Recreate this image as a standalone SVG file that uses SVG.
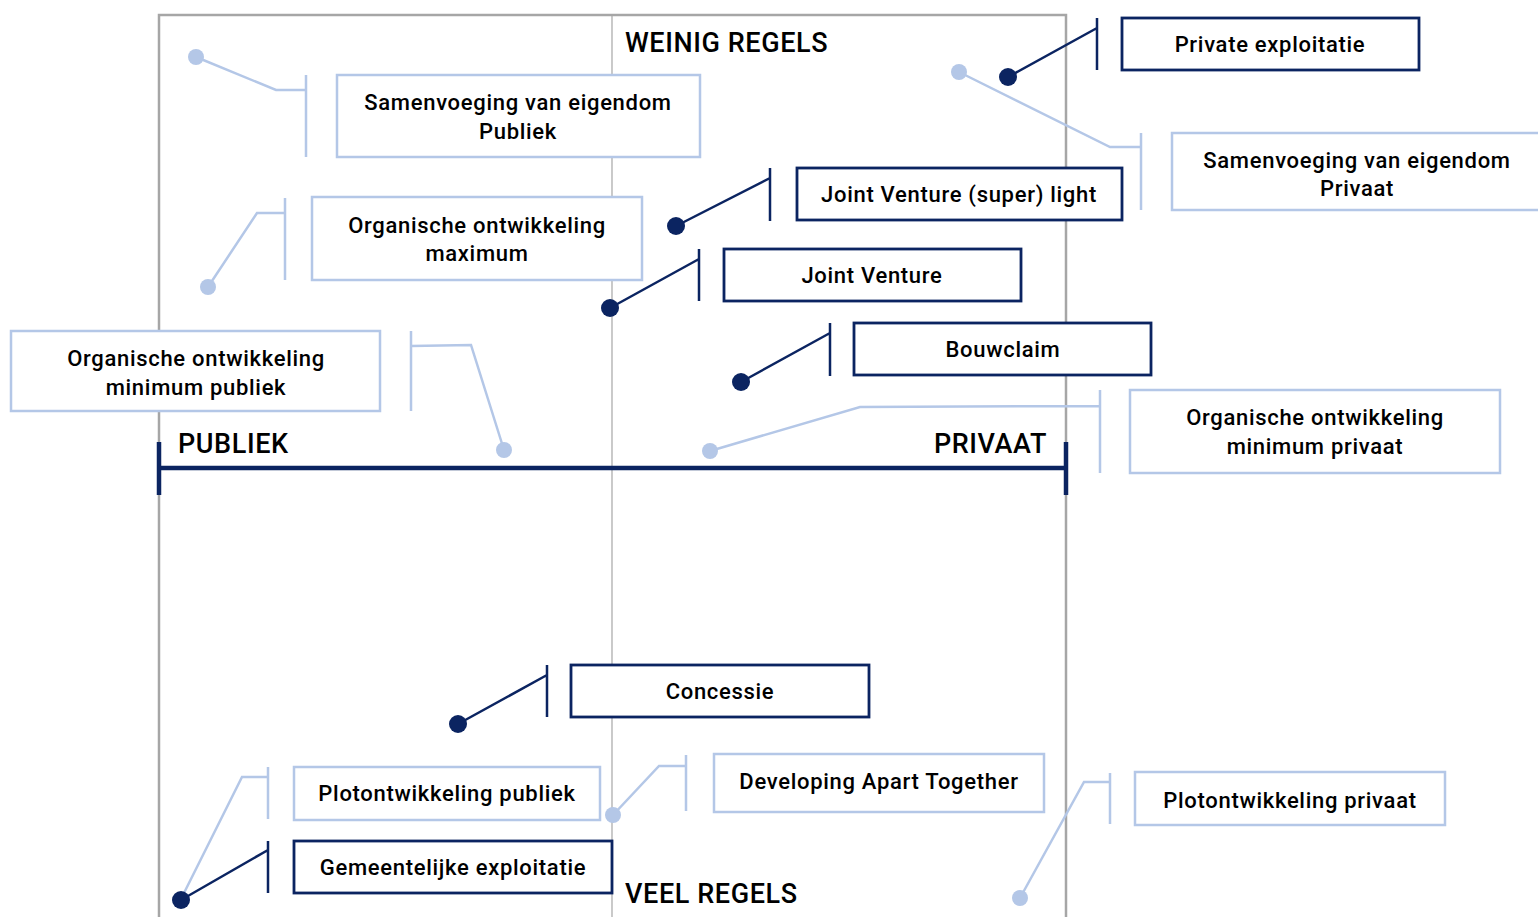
<svg xmlns="http://www.w3.org/2000/svg" width="1538" height="917" viewBox="0 0 1538 917">
  <style>
    .frame { fill: none; stroke: #a6a6a6; stroke-width: 2.5; }
    .mid { stroke: #a6a6a6; stroke-width: 1.2; }
    .axis { stroke: #0b2461; stroke-width: 4.5; fill: none; }
    .boxL { fill: #ffffff; stroke: #b4c7e7; stroke-width: 2.5; }
    .boxD { fill: #ffffff; stroke: #0b2461; stroke-width: 2.8; }
    .lnL { fill: none; stroke: #b4c7e7; stroke-width: 2.5; }
    .lnD { fill: none; stroke: #0b2461; stroke-width: 2.5; }
    .dotL { fill: #b4c7e7; }
    .dotD { fill: #0b2461; }
    .t { font-family: Roboto, "Liberation Sans", sans-serif; font-size: 22px; font-weight: 500; fill: #000; text-anchor: middle; letter-spacing: 0.7px; }
    .lab { font-family: Roboto, "Liberation Sans", sans-serif; font-size: 27px; font-weight: 500; fill: #000; letter-spacing: 0.6px; }
  </style>

  <!-- frame, midline and axis -->
  <g id="axes">
    <path class="frame" d="M159,930 V15 H1066 V930"/>
    <line class="mid" x1="612" y1="15" x2="612" y2="917"/>
    <line class="axis" x1="159" y1="468" x2="1066" y2="468"/>
    <line class="axis" x1="159" y1="442" x2="159" y2="495"/>
    <line class="axis" x1="1066" y1="442" x2="1066" y2="495"/>
    <text class="lab" x="625" y="52">WEINIG REGELS</text>
    <text class="lab" x="178" y="453">PUBLIEK</text>
    <text class="lab" x="1047" y="453" text-anchor="end">PRIVAAT</text>
    <text class="lab" x="625" y="903">VEEL REGELS</text>
  </g>

  <!-- connectors: dot, leader line, bracket -->
  <g id="connectors">
    <path class="lnL" d="M196,57 L276,90 H306 M306,75 V157"/>
    <circle class="dotL" cx="196" cy="57" r="8"/>
    <path class="lnL" d="M208,287 L257,213 H285 M285,198 V280"/>
    <circle class="dotL" cx="208" cy="287" r="8"/>
    <path class="lnL" d="M411,331 V411 M411,346 L471,345 L504,450"/>
    <circle class="dotL" cx="504" cy="450" r="8"/>
    <path class="lnL" d="M959,72 L1110,147 H1141 M1141,133 V210"/>
    <circle class="dotL" cx="959" cy="72" r="8"/>
    <path class="lnL" d="M710,451 L860,407 L1100,406 M1100,390 V473"/>
    <circle class="dotL" cx="710" cy="451" r="8"/>
    <path class="lnL" d="M181,899 L242,777 H268 M268,767 V819"/>
    <path class="lnL" d="M613,815 L659,766 H686 M686,755 V811"/>
    <circle class="dotL" cx="613" cy="815" r="8"/>
    <path class="lnL" d="M1020,898 L1084,782 H1110 M1110,773 V824"/>
    <circle class="dotL" cx="1020" cy="898" r="8"/>

    <path class="lnD" d="M1008,77 L1097,28 M1097,18 V70"/>
    <circle class="dotD" cx="1008" cy="77" r="9"/>
    <path class="lnD" d="M676,226 L770,178 M770,168 V221"/>
    <circle class="dotD" cx="676" cy="226" r="9"/>
    <path class="lnD" d="M610,308 L699,259 M699,249 V301"/>
    <circle class="dotD" cx="610" cy="308" r="9"/>
    <path class="lnD" d="M741,382 L830,333 M830,323 V376"/>
    <circle class="dotD" cx="741" cy="382" r="9"/>
    <path class="lnD" d="M458,724 L547,675 M547,665 V717"/>
    <circle class="dotD" cx="458" cy="724" r="9"/>
    <path class="lnD" d="M181,900 L268,850 M268,841 V893"/>
    <circle class="dotD" cx="181" cy="900" r="9"/>
  </g>

  <!-- light boxes -->
  <g id="samenvoeging-publiek">
    <rect class="boxL" x="337" y="75" width="363" height="82"/>
    <text class="t" x="518" y="110">Samenvoeging van eigendom</text>
    <text class="t" x="518" y="139">Publiek</text>
  </g>
  <g id="organische-maximum">
    <rect class="boxL" x="312" y="197" width="330" height="83"/>
    <text class="t" x="477" y="233">Organische ontwikkeling</text>
    <text class="t" x="477" y="261">maximum</text>
  </g>
  <g id="organische-minimum-publiek">
    <rect class="boxL" x="11" y="331" width="369" height="80"/>
    <text class="t" x="196" y="366">Organische ontwikkeling</text>
    <text class="t" x="196" y="395">minimum publiek</text>
  </g>
  <g id="samenvoeging-privaat">
    <rect class="boxL" x="1172" y="133" width="380" height="77"/>
    <text class="t" x="1357" y="168">Samenvoeging van eigendom</text>
    <text class="t" x="1357" y="196">Privaat</text>
  </g>
  <g id="organische-minimum-privaat">
    <rect class="boxL" x="1130" y="390" width="370" height="83"/>
    <text class="t" x="1315" y="425">Organische ontwikkeling</text>
    <text class="t" x="1315" y="454">minimum privaat</text>
  </g>
  <g id="plotontwikkeling-publiek">
    <rect class="boxL" x="294" y="767" width="306" height="53"/>
    <text class="t" x="447" y="801">Plotontwikkeling publiek</text>
  </g>
  <g id="developing-apart-together">
    <rect class="boxL" x="714" y="754" width="330" height="58"/>
    <text class="t" x="879" y="789">Developing Apart Together</text>
  </g>
  <g id="plotontwikkeling-privaat">
    <rect class="boxL" x="1135" y="772" width="310" height="53"/>
    <text class="t" x="1290" y="808">Plotontwikkeling privaat</text>
  </g>

  <!-- dark boxes -->
  <g id="private-exploitatie">
    <rect class="boxD" x="1122" y="18" width="297" height="52"/>
    <text class="t" x="1270" y="52">Private exploitatie</text>
  </g>
  <g id="joint-venture-super-light">
    <rect class="boxD" x="797" y="168" width="325" height="52"/>
    <text class="t" x="959" y="202">Joint Venture (super) light</text>
  </g>
  <g id="joint-venture">
    <rect class="boxD" x="724" y="249" width="297" height="52"/>
    <text class="t" x="872" y="283">Joint Venture</text>
  </g>
  <g id="bouwclaim">
    <rect class="boxD" x="854" y="323" width="297" height="52"/>
    <text class="t" x="1003" y="357">Bouwclaim</text>
  </g>
  <g id="concessie">
    <rect class="boxD" x="571" y="665" width="298" height="52"/>
    <text class="t" x="720" y="699">Concessie</text>
  </g>
  <g id="gemeentelijke-exploitatie">
    <rect class="boxD" x="294" y="841" width="318" height="52"/>
    <text class="t" x="453" y="875">Gemeentelijke exploitatie</text>
  </g>
</svg>
